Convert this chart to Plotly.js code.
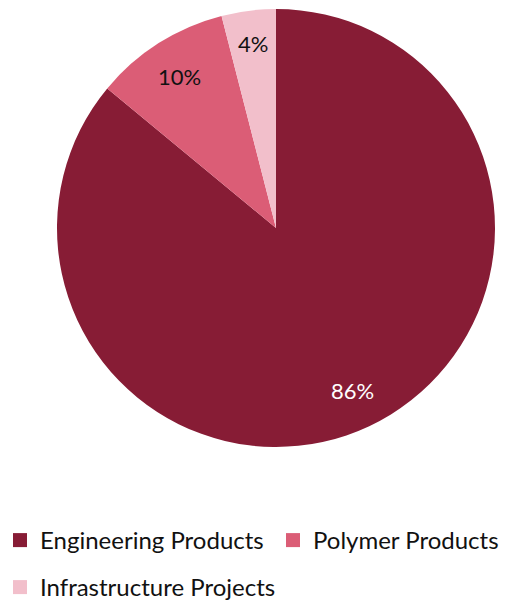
<!DOCTYPE html>
<html>
<head>
<meta charset="utf-8">
<script src="https://cdn.plot.ly/plotly-3.0.1.min.js"></script>
<style>html,body{margin:0;padding:0;background:#fff;}#chart{width:514px;height:601px;}</style>
</head>
<body>
<div id="chart"></div>
<script>
const categories = ["Engineering Products", "Polymer Products", "Infrastructure Projects"];
const shares = [86, 10, 4];
const colors = ["#871C35", "#DB5D76", "#F2BFCB"];
const textColors = ["#FFFFFF", "#111111", "#111111"];
const legendIds = ["legend", "legend2", "legend3"];

const W = 514, H = 601;
const cx = 276, cy = 228, R = 219;
const FONT = "Lato, 'Open Sans', sans-serif";

const data = [{
  type: "pie",
  labels: categories,
  values: shares,
  sort: false,
  direction: "clockwise",
  rotation: 0,
  marker: {colors: colors, line: {width: 0}},
  textinfo: "none",
  hoverinfo: "none",
  showlegend: false,
  domain: {x: [(cx - R) / W, (cx + R) / W], y: [1 - (cy + R) / H, 1 - (cy - R) / H]}
}];

// legend proxies
categories.forEach((c, i) => {
  data.push({
    type: "scatter", mode: "markers",
    x: [null], y: [null],
    name: c,
    legend: legendIds[i],
    marker: {symbol: "square", size: 14, color: colors[i]},
    showlegend: true,
    hoverinfo: "none"
  });
});

// percentage labels placed along each slice's mid-angle
const total = shares.reduce((a, b) => a + b, 0);
const annotations = [];
let acc = 0;
shares.forEach((v, i) => {
  const mid = (acc + v / 2) / total * 2 * Math.PI;
  acc += v;
  const f = i === 2 ? 0.85 : 0.82;
  const px = cx + f * R * Math.sin(mid);
  const py = cy - f * R * Math.cos(mid);
  annotations.push({
    xref: "paper", yref: "paper",
    x: px / W, y: 1 - py / H,
    text: Math.round(v / total * 100) + "%",
    showarrow: false,
    xanchor: "center", yanchor: "middle",
    font: {family: FONT, size: 22, color: textColors[i]}
  });
});

const legendCommon = {
  orientation: "h",
  xanchor: "left", yanchor: "top",
  font: {family: FONT, size: 24, color: "#111"},
  bgcolor: "rgba(0,0,0,0)"
};

const layout = {
  width: W, height: H,
  margin: {l: 0, r: 0, t: 0, b: 0, autoexpand: false},
  paper_bgcolor: "#fff",
  plot_bgcolor: "#fff",
  xaxis: {visible: false},
  yaxis: {visible: false},
  showlegend: true,
  legend: Object.assign({}, legendCommon, {x: 0, y: 1 - 518 / H}),
  legend2: Object.assign({}, legendCommon, {x: 273 / W, y: 1 - 518 / H}),
  legend3: Object.assign({}, legendCommon, {x: 0, y: 1 - 565 / H}),
  annotations: annotations
};

Plotly.newPlot("chart", data, layout, {staticPlot: true});
</script>
</body>
</html>
